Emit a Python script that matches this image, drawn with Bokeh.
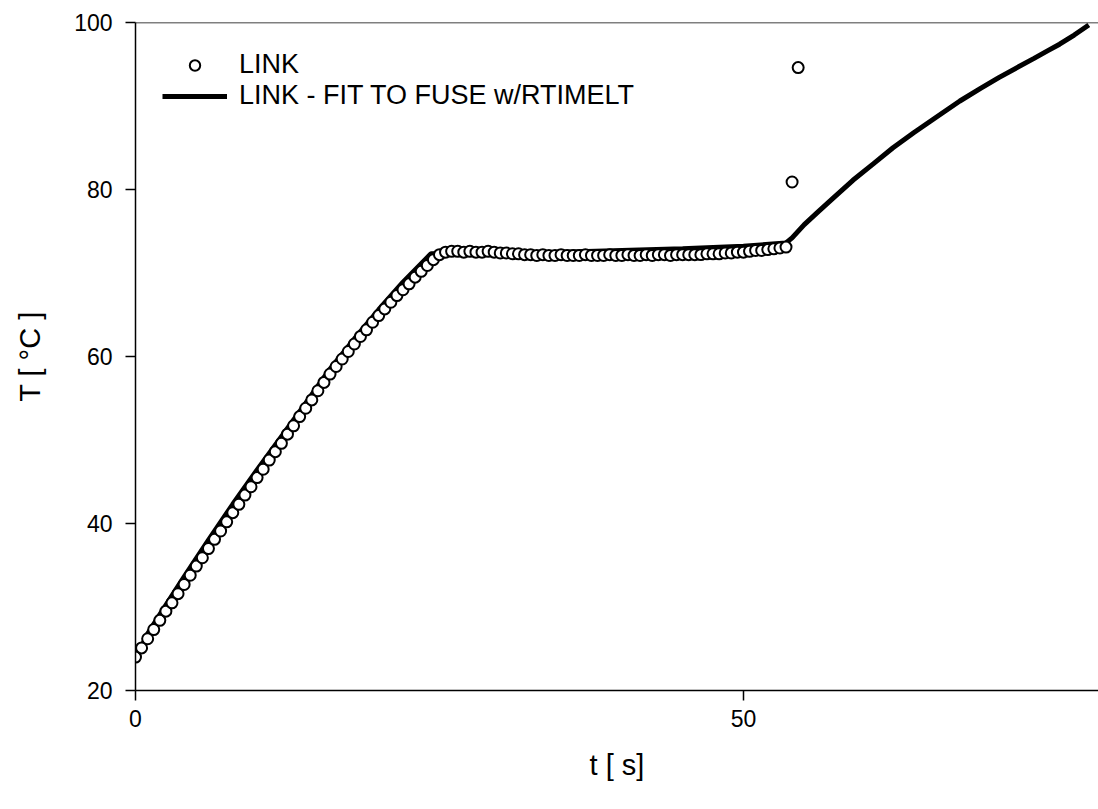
from bokeh.plotting import figure
from bokeh.models import Range1d, FixedTicker, Span, Legend, LegendItem
from bokeh.embed import file_html
from bokeh.resources import INLINE

# LINK measurements (time in s, temperature in deg C)
t_link = [0.0, 0.5, 1.0, 1.5, 2.0, 2.5, 3.0, 3.5, 4.0, 4.5,
          5.0, 5.5, 6.0, 6.5, 7.0, 7.5, 8.0, 8.5, 9.0, 9.5,
          10.0, 10.5, 11.0, 11.5, 12.0, 12.5, 13.0, 13.5, 14.0, 14.5,
          15.0, 15.5, 16.0, 16.5, 17.0, 17.5, 18.0, 18.5, 19.0, 19.5,
          20.0, 20.5, 21.0, 21.5, 22.0, 22.5, 23.0, 23.5, 24.0, 24.5,
          25.0, 25.5, 26.0, 26.5, 27.0, 27.5, 28.0, 28.5, 29.0, 29.5,
          30.0, 30.5, 31.0, 31.5, 32.0, 32.5, 33.0, 33.5, 34.0, 34.5,
          35.0, 35.5, 36.0, 36.5, 37.0, 37.5, 38.0, 38.5, 39.0, 39.5,
          40.0, 40.5, 41.0, 41.5, 42.0, 42.5, 43.0, 43.5, 44.0, 44.5,
          45.0, 45.5, 46.0, 46.5, 47.0, 47.5, 48.0, 48.5, 49.0, 49.5,
          50.0, 50.5, 51.0, 51.5, 52.0, 52.5, 53.0, 53.5, 54.0, 54.5]
T_link = [24.0, 25.1, 26.2, 27.3, 28.4, 29.5, 30.5, 31.6, 32.7, 33.8,
          34.9, 35.9, 37.0, 38.1, 39.1, 40.2, 41.3, 42.3, 43.4, 44.4,
          45.5, 46.5, 47.6, 48.6, 49.6, 50.7, 51.7, 52.8, 53.8, 54.8,
          55.9, 56.9, 57.9, 58.8, 59.7, 60.6, 61.5, 62.4, 63.2, 64.1,
          64.9, 65.7, 66.5, 67.3, 68.0, 68.7, 69.5, 70.2, 70.9, 71.6,
          72.2, 72.5, 72.6, 72.6, 72.5, 72.6, 72.5, 72.5, 72.6, 72.5,
          72.4, 72.4, 72.3, 72.3, 72.2, 72.2, 72.1, 72.2, 72.1, 72.1,
          72.2, 72.1, 72.1, 72.1, 72.2, 72.1, 72.1, 72.1, 72.2, 72.1,
          72.1, 72.2, 72.1, 72.1, 72.2, 72.1, 72.2, 72.2, 72.1, 72.2,
          72.2, 72.2, 72.2, 72.2, 72.3, 72.3, 72.3, 72.4, 72.4, 72.5,
          72.5, 72.6, 72.7, 72.7, 72.8, 72.9, 73.0, 73.1, 80.9, 94.6]

# LINK - FIT TO FUSE w/RTIMELT
t_fit = [0.0, 0.3, 1.0, 2.0, 4.0, 6.0, 8.0, 10.0, 12.0, 14.0, 16.0, 18.0,
         20.0, 22.0, 24.3, 30.0, 35.0, 40.0, 45.0, 50.0, 53.5, 54.0, 55.0,
         56.2, 57.4, 59.0, 60.7, 62.3, 64.0, 66.0, 67.8, 69.5, 71.0, 72.5,
         73.9, 75.0, 76.0, 77.2, 78.4]
T_fit = [24.0, 24.6, 26.8, 29.1, 33.6, 38.0, 42.3, 46.4, 50.4, 54.4, 58.5, 62.1,
         65.6, 68.9, 72.3, 72.4, 72.5, 72.7, 72.9, 73.2, 73.6, 74.2, 75.8,
         77.4, 79.0, 81.1, 83.1, 85.0, 86.8, 88.8, 90.6, 92.1, 93.4, 94.6,
         95.7, 96.6, 97.4, 98.5, 99.7]

x_ticks = [0, 50]
y_ticks = [20, 40, 60, 80, 100]
FONT = "Liberation Sans"

p = figure(frame_width=963, frame_height=668,
           x_range=Range1d(0, 79.2), y_range=Range1d(20, 100),
           output_backend="svg", toolbar_location=None,
           min_border_left=135, min_border_top=22, min_border_right=0,
           min_border_bottom=110)
p.grid.visible = False
p.outline_line_color = None
p.background_fill_color = "white"
p.border_fill_color = "white"

for ax in (p.xaxis[0], p.yaxis[0]):
    ax.axis_line_color = "black"
    ax.axis_line_width = 1.5
    ax.major_tick_line_color = "black"
    ax.major_tick_line_width = 1.5
    ax.major_tick_in = 0
    ax.major_tick_out = 10
    ax.minor_tick_line_color = None
    ax.major_label_text_font = FONT
    ax.major_label_text_font_size = "23px"
    ax.major_label_text_color = "black"
    ax.axis_label_text_font = FONT
    ax.axis_label_text_font_size = "29px"
    ax.axis_label_text_font_style = "normal"
    ax.axis_label_text_color = "black"

p.xaxis.ticker = FixedTicker(ticks=x_ticks)
p.yaxis.ticker = FixedTicker(ticks=y_ticks)
p.xaxis.axis_label = "t [ s]"
p.yaxis.axis_label = "T [ °C ]"
p.xaxis.major_label_standoff = 9
p.yaxis.major_label_standoff = 13
p.xaxis.axis_label_standoff = 19
p.yaxis.axis_label_standoff = 25

p.add_layout(Span(location=100, dimension="width", line_color="black", line_width=1.5))

fit_r = p.line(t_fit, T_fit, line_color="black", line_width=5)
link_r = p.scatter(t_link, T_link, marker="circle", size=11, fill_color="white",
                   line_color="black", line_width=2)

legend = Legend(items=[LegendItem(label="LINK", renderers=[link_r]),
                       LegendItem(label="LINK - FIT TO FUSE w/RTIMELT", renderers=[fit_r])],
                location="top_left", margin=27, padding=0,
                glyph_width=65, glyph_height=26, label_height=26, spacing=0,
                label_standoff=12, label_text_font=FONT, label_text_font_size="27px",
                label_text_color="black", border_line_color=None,
                background_fill_alpha=0)
p.add_layout(legend)

open("out.html", "w").write(file_html(p, INLINE))
